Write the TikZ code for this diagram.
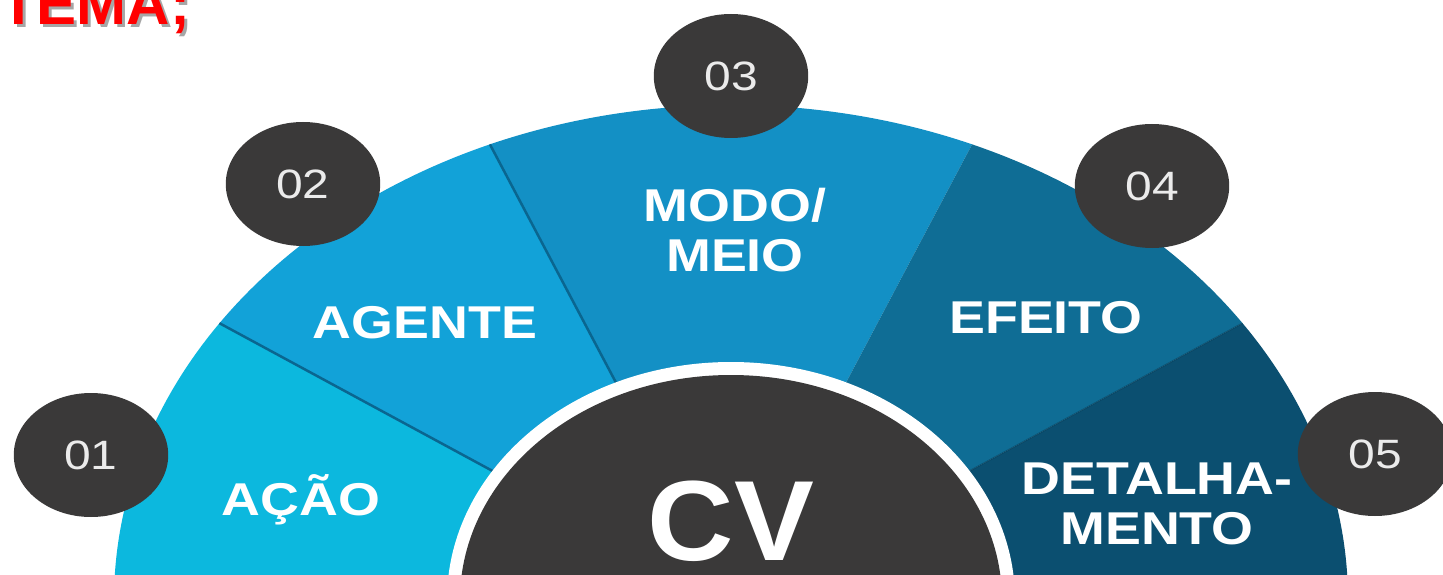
\documentclass[tikz,border=0pt]{standalone}
\usepackage{fontspec}
\setmainfont{Liberation Sans}
\usetikzlibrary{shapes.geometric}
\definecolor{acao}{HTML}{0CB8DE}
\definecolor{agente}{HTML}{12A2D8}
\definecolor{modo}{HTML}{1390C5}
\definecolor{efeito}{HTML}{0F6D95}
\definecolor{detalhe}{HTML}{0B4F70}
\definecolor{segline}{HTML}{0A6690}
\definecolor{darkgray}{HTML}{3A3939}
\begin{document}
\begin{tikzpicture}[x=1pt, y=1pt,
    badge/.style={ellipse, fill=darkgray, minimum width=132pt, minimum height=124pt,
      inner sep=0pt, xscale=1.17, text=white!92!black, font=\fontsize{41}{44}\selectfont},
    seglabel/.style={inner sep=0pt, xscale=1.17, align=center, text=white,
      font=\fontsize{46}{50}\selectfont\bfseries},
    titlelabel/.style={inner sep=0pt, anchor=base west, font=\fontsize{60}{60}\selectfont\bfseries}]
  \def\Rx{617}
  \def\Ry{495}
  \def\rx{284}
  \def\ry{238}
  \def\ring{13}
  \useasboundingbox (0,0) rectangle (1443,574);
  \clip (0,0) rectangle (1443,574);
  \coordinate (C) at (731,-26);
  % fan
  \foreach \a/\b/\col in {180/146/acao, 146/113/agente, 113/67/modo, 67/34/efeito, 34/0/detalhe}
    \fill[\col] (C) -- ++(\a:{\Rx} and {\Ry}) arc[start angle=\a, end angle=\b, x radius=\Rx, y radius=\Ry] -- cycle;
  \foreach \a in {146,113}
    \draw[segline, line width=2.5pt] (C) -- ++(\a:{\Rx} and {\Ry});
  \draw[detalhe!80!black, line width=1.5pt, opacity=0.5] (C) -- ++(34:{\Rx} and {\Ry});
  % centre
  \fill[white] (C) ellipse [x radius=\rx, y radius=\ry];
  \fill[darkgray] (C) ellipse [x radius=\rx-\ring, y radius=\ry-\ring];
  \node[inner sep=0pt, anchor=base, xscale=1.05, text=white,
    font=\fontsize{114}{120}\selectfont\bfseries] (cv) at (731,14) {CV};
  % labels
  \node[seglabel, anchor=base] (acao) at (301,59) {AÇÃO};
  \node[seglabel, anchor=base] (agente) at (425,236) {AGENTE};
  \node[seglabel] (modo) at (735,344) {MODO/\\MEIO};
  \node[seglabel, anchor=base] (efeito) at (1046,241) {EFEITO};
  \node[seglabel] (detalhe) at (1157,70) {DETALHA-\\MENTO};
  % numbers
  \node[badge] (n1) at (91,119) {01};
  \node[badge] (n2) at (303,390) {02};
  \node[badge] (n3) at (731,498) {03};
  \node[badge] (n4) at (1152,388) {04};
  \node[badge] (n5) at (1375,120) {05};
  % title
  \node[titlelabel, text=black!35] (temashadow) at (3,546) {TEMA;};
  \node[titlelabel, text=red] (tema) at (0,549) {TEMA;};
\end{tikzpicture}
\end{document}
